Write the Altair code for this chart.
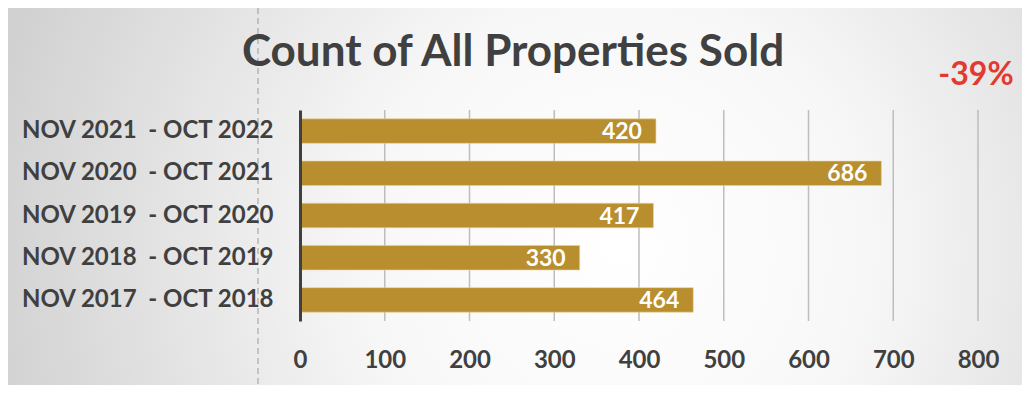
import altair as alt
import pandas as pd

periods = [
    "NOV 2021\u00a0 - OCT 2022",
    "NOV 2020\u00a0 - OCT 2021",
    "NOV 2019\u00a0 - OCT 2020",
    "NOV 2018\u00a0 - OCT 2019",
    "NOV 2017\u00a0 - OCT 2018",
]
counts = [420, 686, 417, 330, 464]
x_ticks = [0, 100, 200, 300, 400, 500, 600, 700, 800]
change_label = ["-39%"]
title_text = ["Count of All Properties Sold"]

FONT = "Lato"
DARK = "#404040"
GOLD = "#B88E2F"

df = pd.DataFrame({"period": periods, "count": counts})
tick_df = pd.DataFrame({"tick": x_ticks[1:]})
note_df = pd.DataFrame({"label": change_label})
title_df = pd.DataFrame({"label": title_text})

W, H = 678, 211
PAD_L, PAD_T = 292, 102
TOTAL_W, TOTAL_H = 1014, 377

# background radial gradient panel
bg = alt.Chart(note_df).mark_rect(
    color=alt.Gradient(
        gradient="radial",
        x1=0.6, y1=0.55, r1=0,
        x2=0.6, y2=0.55, r2=0.72,
        stops=[
            alt.GradientStop(color="#ffffff", offset=0),
            alt.GradientStop(color="#f7f7f7", offset=0.35),
            alt.GradientStop(color="#c8c8c8", offset=1),
        ],
    ),
    strokeWidth=0,
).encode(
    x=alt.value(-PAD_L),
    x2=alt.value(TOTAL_W - PAD_L),
    y=alt.value(-PAD_T),
    y2=alt.value(TOTAL_H - PAD_T),
)

dash = alt.Chart(note_df).mark_rule(
    color="#9a9a9a", strokeDash=[6, 4], strokeWidth=1
).encode(
    x=alt.value(-42),
    y=alt.value(-PAD_T),
    y2=alt.value(TOTAL_H - PAD_T),
)

x_scale = alt.Scale(domain=[0, 800], nice=False)

grid = alt.Chart(tick_df).mark_rule(color="#bdbdbd", strokeWidth=1.5).encode(
    x=alt.X("tick:Q", scale=x_scale),
    y=alt.value(0),
    y2=alt.value(H),
)

base = alt.Chart(df)

bars = base.mark_bar(color=GOLD, stroke="#E8D39A", strokeWidth=0.6).encode(
    y=alt.Y(
        "period:N",
        sort=periods,
        title=None,
        scale=alt.Scale(paddingInner=0.42, paddingOuter=0.21),
        axis=alt.Axis(
            labelFont=FONT,
            labelFontSize=24,
            labelFontWeight="bold",
            labelColor=DARK,
            labelPadding=27,
            labelLimit=400,
            ticks=False,
            domainColor=DARK,
            domainWidth=3,
            grid=False,
            zindex=2,
        ),
    ),
    x=alt.X(
        "count:Q",
        title=None,
        scale=x_scale,
        axis=alt.Axis(
            values=x_ticks,
            labelFont=FONT,
            labelFontSize=24,
            labelFontWeight="bold",
            labelColor=DARK,
            labelPadding=27,
            labelFlush=False,
            ticks=False,
            domain=False,
            grid=False,
            zindex=2,
        ),
    ),
)

labels = base.mark_text(
    align="right",
    baseline="middle",
    dx=-14,
    dy=1,
    color="white",
    font=FONT,
    fontSize=23,
    fontWeight="bold",
).encode(
    y=alt.Y("period:N", sort=periods),
    x="count:Q",
    text="count:Q",
)

note = alt.Chart(note_df).mark_text(
    align="center",
    baseline="alphabetic",
    color="#E23A2E",
    font=FONT,
    fontSize=32,
    fontWeight="bold",
).encode(
    x=alt.value(676),
    y=alt.value(-25),
    text="label:N",
)

title = alt.Chart(title_df).mark_text(
    align="center",
    baseline="alphabetic",
    color=DARK,
    font=FONT,
    fontSize=44,
    fontWeight="bold",
).encode(
    x=alt.value(213),
    y=alt.value(-44),
    text="label:N",
)

chart = alt.layer(bg, dash, grid, bars, labels, note, title).properties(
    width=W,
    height=H,
    padding={"left": PAD_L, "top": PAD_T, "right": TOTAL_W - PAD_L - W, "bottom": TOTAL_H - PAD_T - H},
    autosize=alt.AutoSizeParams(type="none"),
).configure_view(stroke=None).configure(background="#e6e6e6")

chart.save("out.html", embed_options={"renderer": "svg", "actions": False})
